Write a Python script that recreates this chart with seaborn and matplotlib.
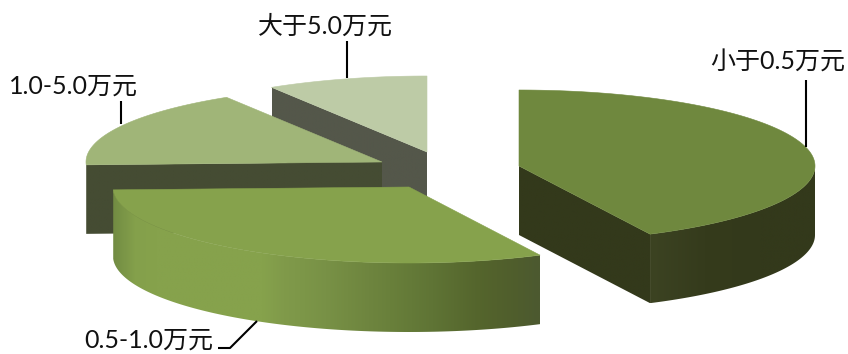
import numpy as np
import matplotlib
matplotlib.use("Agg")
import matplotlib.pyplot as plt
from matplotlib.patches import Polygon
import seaborn as sns

# shares in percent, clockwise from 12 o'clock
labels = ["小于0.5万元", "0.5-1.0万元", "1.0-5.0万元", "大于5.0万元"]
shares = [42.7, 31.7, 16.8, 8.8]

# exploded centre of each slice, in pixels
centers = [(519, 166), (409, 187), (382, 162), (427, 152)]
top_colors = ["#6f883e", "#86a24c", "#a0b578", "#bdcba6"]
side_colors = ["#33391b", "#86a24c", "#454c33", "#54574a"]

# front wall of the big slice, one colour every 21 px or so
front_shade = ["#728c43", "#84a04b", "#86a24c", "#86a24c", "#86a24c", "#86a24c", "#86a24c",
               "#86a24c", "#809a4a", "#7c9648", "#789146", "#738b42", "#6e853f", "#69803b",
               "#647a38", "#5f7435", "#5a6d31", "#55662d", "#52612c", "#4f5d2d", "#4c5930"]

RX, RY, DEPTH = 296, 76, 69

sns.set_theme(style="white")
plt.rcParams["font.family"] = ["Lato", "Noto Sans CJK SC", "DejaVu Sans"]

fig = plt.figure(figsize=(8.48, 3.54), dpi=100)
ax = fig.add_axes([0, 0, 1, 1])
ax.set_axis_off()

edges = np.concatenate([[0], np.cumsum(shares)]) / sum(shares) * 2 * np.pi


def ring(i, steps=160):
    t = np.linspace(edges[i], edges[i + 1], steps)
    cx, cy = centers[i]
    return np.column_stack([cx + RX * np.sin(t), cy - RY * np.cos(t)])


def gradient_wall(pts, colors, z):
    # vertical wall under a top edge, shaded left to right
    wall = np.vstack([pts, pts[::-1] + [0, DEPTH]])
    patch = Polygon(wall, closed=True, fc="none", ec="none", zorder=z)
    ax.add_patch(patch)
    x0, x1 = wall[:, 0].min(), wall[:, 0].max()
    y0, y1 = wall[:, 1].min(), wall[:, 1].max()
    cmap = sns.blend_palette(colors, as_cmap=True)
    im = ax.imshow(np.linspace(0, 1, 256)[None, :], cmap=cmap, aspect="auto",
                   extent=(x0, x1, y1, y0), zorder=z, interpolation="bilinear")
    im.set_clip_path(patch)


def draw_slice(i, z):
    c = np.array(centers[i], float)
    rim = ring(i)
    flat = side_colors[i]
    if i == 0:
        gradient_wall(np.array([c, rim[-1]]), [flat, flat], z)
        gradient_wall(rim[rim[:, 1] >= rim[rim[:, 0].argmax(), 1]],
                      ["#3c4322", "#353b1c", flat, flat], z)
    elif i == 1:
        gradient_wall(rim, front_shade, z)
    else:
        gradient_wall(np.array([rim[0], c]), [flat, flat], z)
    ax.add_patch(Polygon(np.vstack([c, rim]), closed=True, fc=top_colors[i],
                         ec=top_colors[i], lw=0.4, zorder=z + 0.5))


# back slices first, the front slice last
for z, i in enumerate([3, 2, 0, 1]):
    draw_slice(i, z + 1)

ax.set_xlim(0, 848)
ax.set_ylim(354, 0)

# leader lines and labels
leaders = [([806, 806], [80, 147]),
           ([218, 230, 257], [348, 348, 321]),
           ([121, 121], [101, 124]),
           ([347, 347], [41, 78])]
label_pos = [(778, 62), (149, 340), (73, 86), (325, 26)]
for name, (tx, ty), (lx, ly) in zip(labels, label_pos, leaders):
    ax.plot(lx, ly, color="black", lw=1.5, solid_capstyle="butt", zorder=10)
    ax.text(tx, ty, name, ha="center", va="center", fontsize=18,
            color="#111111", zorder=11)

fig.savefig("out.png", dpi=100, facecolor="white")
